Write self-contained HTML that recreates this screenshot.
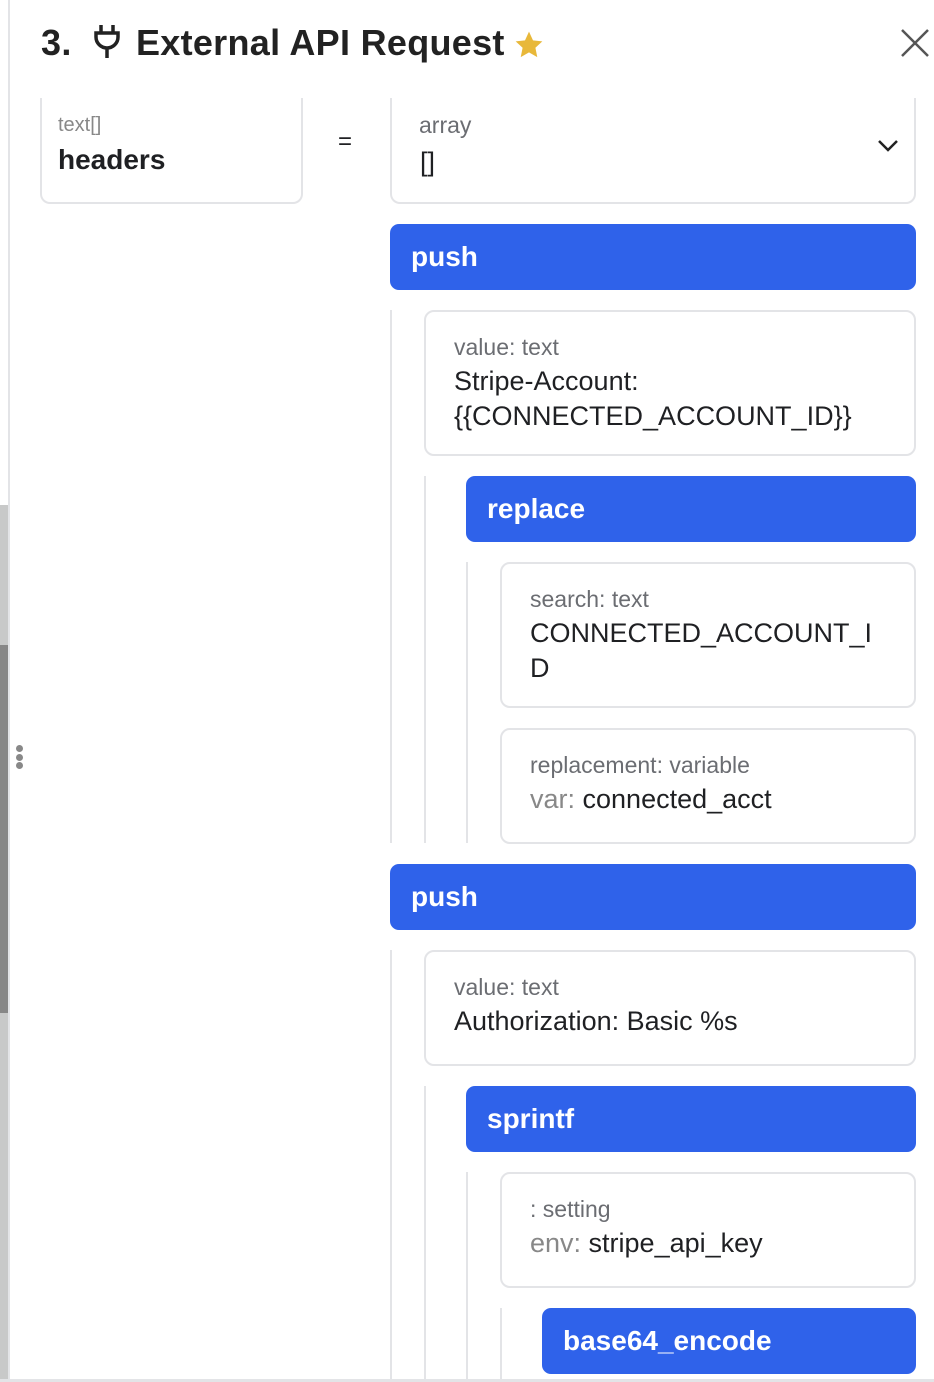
<!DOCTYPE html>
<html><head><style>
body{margin:0;width:934px;height:1382px;background:#fff;position:relative;overflow:hidden;font-family:"Liberation Sans",sans-serif;color:#1f2023}
.a{position:absolute}
.box{position:absolute;border:2px solid #e3e4e7;border-radius:10px;box-sizing:border-box;background:#fff}
.blue{position:absolute;background:#2f62ea;border-radius:9px;color:#fff;font-weight:bold;font-size:28px;box-sizing:border-box;padding-left:21px;line-height:66px}
.lbl{position:absolute;left:28px;font-size:23px;color:#6b6d72}
.val{position:absolute;left:28px;font-size:27px;color:#1f2023;line-height:35px}
.vl{position:absolute;width:2px;background:#e3e4e7}
</style></head><body>
<div class="a" style="left:0;top:505px;width:8px;height:140px;background:#c8c9c9"></div>
<div class="a" style="left:0;top:645px;width:8px;height:368px;background:#878787"></div>
<div class="a" style="left:0;top:1013px;width:8px;height:369px;background:#c8c9c9"></div>
<div class="a" style="left:8px;top:0;width:2px;height:1382px;background:#e3e4e7"></div>
<div class="a" style="left:0;top:1379px;width:934px;height:3px;background:#e3e4e7"></div>
<div class="a" style="left:16px;top:745px;width:7px;height:7px;border-radius:50%;background:#888"></div>
<div class="a" style="left:16px;top:754px;width:7px;height:7px;border-radius:50%;background:#888"></div>
<div class="a" style="left:16px;top:762px;width:7px;height:7px;border-radius:50%;background:#888"></div>

<div class="a" style="left:41px;top:22px;font-size:36px;font-weight:bold;color:#222;white-space:nowrap;letter-spacing:0.3px">3.
<svg width="30" height="38" viewBox="0 0 30 38" style="vertical-align:-6px;margin:0 14px 0 10px"><path d="M9 2v7M21 2v7M4 10h22v4a11 11 0 0 1-22 0z M15 25v10" stroke="#222" stroke-width="3.5" fill="none"/></svg>External API Request</div>
<svg class="a" style="left:513px;top:29px" width="32" height="32" viewBox="0 0 24 24"><path d="M12 2l3 6.5 7 .8-5.2 4.8 1.4 7-6.2-3.6-6.2 3.6 1.4-7L2 9.3l7-.8z" fill="#e8b83a"/></svg>
<svg class="a" style="left:900px;top:28px" width="30" height="30"><path d="M2 2L28 28M28 2L2 28" stroke="#555" stroke-width="2.5"/></svg>

<div class="box" style="left:40px;top:98px;width:263px;height:106px;border-top:none;border-radius:0 0 10px 10px">
<div class="a" style="left:16px;top:16px;font-size:20px;color:#888">text[]</div>
<div class="a" style="left:16px;top:46px;font-size:28px;font-weight:bold">headers</div></div>
<div class="a" style="left:338px;top:128px;font-size:24px">=</div>
<div class="box" style="left:390px;top:98px;width:526px;height:106px;border-top:none;border-radius:0 0 10px 10px">
<div class="a" style="left:27px;top:14px;font-size:23px;color:#6b6d72">array</div>
<div class="a" style="left:28px;top:49px;font-size:27px">[]</div>
<svg class="a" style="left:484px;top:40px" width="24" height="16"><path d="M3 3l9 9 9-9" stroke="#222" stroke-width="2.5" fill="none"/></svg></div>

<div class="blue" style="left:390px;top:224px;width:526px;height:66px">push</div>
<div class="vl" style="left:390px;top:310px;height:533px"></div>
<div class="box" style="left:424px;top:310px;width:492px;height:146px"><div class="lbl" style="top:22px">value: text</div><div class="val" style="top:52px">Stripe-Account:<br>{{CONNECTED_ACCOUNT_ID}}</div></div>
<div class="vl" style="left:424px;top:476px;height:367px"></div>
<div class="blue" style="left:466px;top:476px;width:450px;height:66px">replace</div>
<div class="vl" style="left:466px;top:562px;height:281px"></div>
<div class="box" style="left:500px;top:562px;width:416px;height:146px"><div class="lbl" style="top:22px">search: text</div><div class="val" style="top:52px">CONNECTED_ACCOUNT_I<br>D</div></div>
<div class="box" style="left:500px;top:728px;width:416px;height:116px"><div class="lbl" style="top:22px">replacement: variable</div><div class="val" style="top:52px"><span style="color:#888">var:</span> connected_acct</div></div>

<div class="blue" style="left:390px;top:864px;width:526px;height:66px">push</div>
<div class="vl" style="left:390px;top:950px;height:430px"></div>
<div class="box" style="left:424px;top:950px;width:492px;height:116px"><div class="lbl" style="top:22px">value: text</div><div class="val" style="top:52px">Authorization: Basic %s</div></div>
<div class="vl" style="left:424px;top:1086px;height:294px"></div>
<div class="blue" style="left:466px;top:1086px;width:450px;height:66px">sprintf</div>
<div class="vl" style="left:466px;top:1172px;height:208px"></div>
<div class="box" style="left:500px;top:1172px;width:416px;height:116px"><div class="lbl" style="top:22px">: setting</div><div class="val" style="top:52px"><span style="color:#888">env:</span> stripe_api_key</div></div>
<div class="vl" style="left:500px;top:1308px;height:72px"></div>
<div class="blue" style="left:542px;top:1308px;width:374px;height:66px">base64_encode</div>
</body></html>
